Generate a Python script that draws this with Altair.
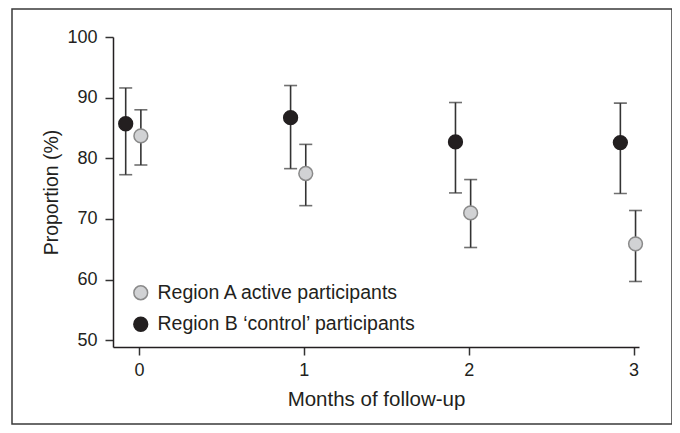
import altair as alt
import pandas as pd

months = [0, 1, 2, 3]
series_names = ["Region A active participants", "Region B \u2018control\u2019 participants"]
a_mean = [83.7, 77.5, 71.0, 65.9]
a_low = [78.9, 72.2, 65.3, 59.7]
a_high = [88.0, 82.3, 76.5, 71.4]
b_mean = [85.7, 86.7, 82.7, 82.6]
b_low = [77.3, 78.3, 74.3, 74.2]
b_high = [91.6, 92.0, 89.2, 89.1]
dodge = [0.012, -0.08]
y_ticks = [50, 60, 70, 80, 90, 100]

rows = []
for name, off, mean, lo, hi in [
    (series_names[0], dodge[0], a_mean, a_low, a_high),
    (series_names[1], dodge[1], b_mean, b_low, b_high),
]:
    for m, v, l, h in zip(months, mean, lo, hi):
        rows.append({"series": name, "xpos": m + off, "mean": v, "low": l, "high": h})
df = pd.DataFrame(rows)

FONT = "Liberation Sans"
TXT = "#231f20"

xscale = alt.Scale(domain=[-0.157, 3.033], nice=False, zero=False)
yscale = alt.Scale(domain=[48.9, 100], nice=False, zero=False)

x_enc = alt.X("xpos:Q", scale=xscale, title="Months of follow-up",
              axis=alt.Axis(values=months, format="d", tickSize=8, labelPadding=6,
                            titlePadding=10, titleFontSize=20.5, grid=False))
y_enc = alt.Y("mean:Q", scale=yscale, title="Proportion (%)",
              axis=alt.Axis(values=y_ticks, tickSize=8, labelPadding=8,
                            titlePadding=5, titleFontSize=19.5, grid=False))

base = alt.Chart(df)

bars = base.mark_rule(color="#333333", strokeWidth=1.6).encode(
    x=x_enc, y=alt.Y("low:Q", scale=yscale), y2="high:Q")
caps_lo = base.mark_tick(orient="horizontal", size=13, thickness=1.6, color="#333333").encode(
    x="xpos:Q", y="low:Q")
caps_hi = base.mark_tick(orient="horizontal", size=13, thickness=1.6, color="#333333").encode(
    x="xpos:Q", y="high:Q")

legend = alt.Legend(title=None, orient="none", legendX=18, legendY=246,
                    labelFontSize=19.5, labelFont=FONT, labelColor=TXT, labelLimit=0,
                    symbolSize=190, symbolStrokeWidth=1.5, labelOffset=7,
                    rowPadding=10.5, symbolType="circle")

pts = base.mark_circle(size=190, opacity=1, strokeWidth=1.5).encode(
    x="xpos:Q", y=y_enc,
    fill=alt.Fill("series:N", scale=alt.Scale(domain=series_names, range=["#d1d2d4", "#231f20"]),
                  legend=legend),
    stroke=alt.Stroke("series:N", scale=alt.Scale(domain=series_names, range=["#8a8a8a", "#231f20"]),
                      legend=legend),
)

frame = alt.Chart(pd.DataFrame({"f": [0]})).mark_rect(
    fill=None, stroke="#3a3a3a", strokeWidth=1.5).encode(
    x=alt.value(-101), x2=alt.value(559), y=alt.value(-28), y2=alt.value(387))

chart = alt.layer(frame, bars, caps_lo, caps_hi, pts).properties(
    width=526, height=310,
    autosize=alt.AutoSizeParams(type="none"),
    padding={"left": 105, "top": 29, "right": 33, "bottom": 78},
).configure(background="white").configure_view(stroke=None).configure_axis(
    labelFont=FONT, titleFont=FONT, labelFontSize=18,
    labelColor=TXT, titleColor=TXT, titleFontWeight="normal",
    domainColor="#231f20", domainWidth=1.5, tickColor="#333333", tickWidth=1.5,
)

chart.save("out.html", embed_options={"renderer": "svg", "actions": False})
